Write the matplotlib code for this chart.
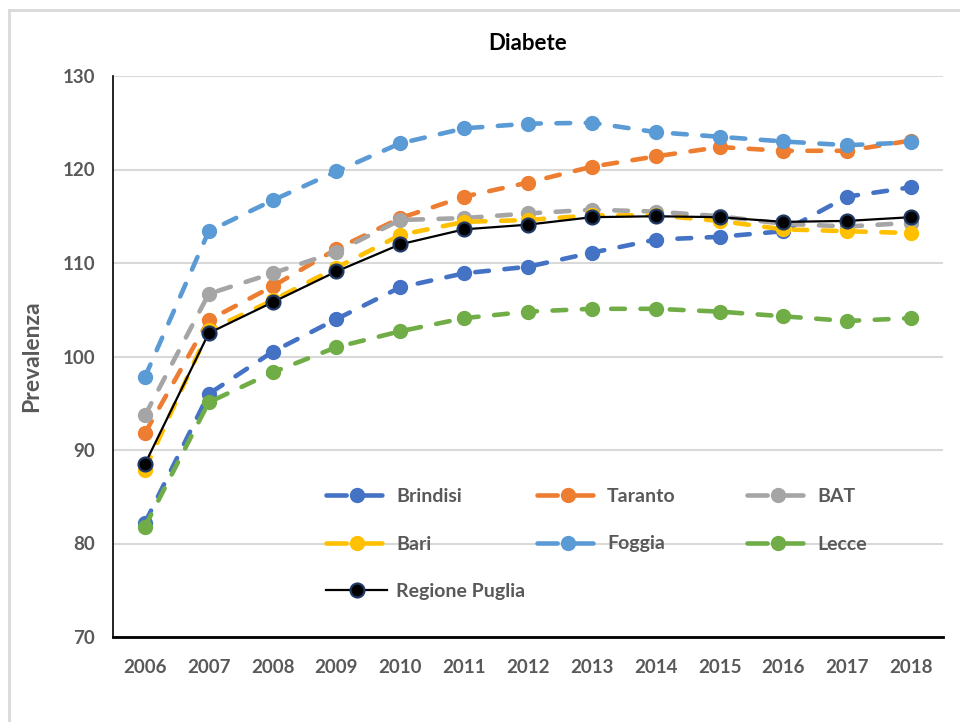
import matplotlib
matplotlib.use("Agg")
import matplotlib.pyplot as plt
from matplotlib.lines import Line2D

plt.rcParams['font.family'] = ['Lato', 'DejaVu Sans']

years = list(range(2006, 2019))

brindisi = [82.2, 96.0, 100.5, 104.0, 107.4, 108.9, 109.6, 111.1, 112.5, 112.8, 113.4, 117.1, 118.1]
taranto = [91.8, 103.9, 107.5, 111.5, 114.8, 117.1, 118.6, 120.3, 121.4, 122.4, 122.0, 122.0, 123.1]
bat = [93.7, 106.7, 108.9, 111.2, 114.6, 114.8, 115.3, 115.7, 115.5, 115.0, 114.2, 113.9, 114.3]
bari = [87.9, 102.8, 106.0, 109.5, 113.0, 114.4, 114.6, 115.1, 115.1, 114.5, 113.6, 113.4, 113.2]
foggia = [97.8, 113.4, 116.7, 119.8, 122.8, 124.4, 124.9, 125.0, 124.0, 123.5, 123.0, 122.6, 122.9]
lecce = [81.8, 95.1, 98.3, 101.0, 102.7, 104.1, 104.8, 105.1, 105.1, 104.8, 104.3, 103.8, 104.1]
puglia = [88.5, 102.5, 105.8, 109.1, 112.0, 113.6, 114.1, 114.9, 115.0, 114.9, 114.4, 114.5, 114.9]

series = [
    ("Brindisi", brindisi, "#4472C4"),
    ("Taranto", taranto, "#ED7D31"),
    ("BAT", bat, "#A5A5A5"),
    ("Bari", bari, "#FFC000"),
    ("Foggia", foggia, "#5B9BD5"),
    ("Lecce", lecce, "#70AD47"),
]

TEXT = "#595959"
GRID = "#D9D9D9"
LW = 3.3

fig = plt.figure(figsize=(9.6, 7.22), dpi=100)
ax = fig.add_axes([113 / 960, 1 - 637 / 722, (943 - 113) / 960, (637 - 76) / 722])

proxies = {}
for name, vals, col in series:
    ln, = ax.plot(years, vals, color=col, lw=LW, marker="o", ms=10,
                  mfc=col, mec=col, dash_capstyle="round", solid_capstyle="round")
    ln.set_dashes((3.0, 3.4))
    px = Line2D([], [], color=col, lw=LW, marker="o", ms=10, mfc=col, mec=col,
                dash_capstyle="round")
    px.set_dashes((4.4, 3.4))
    proxies[name] = px

ax.plot(years, puglia, color="black", lw=1.6, marker="o", ms=10,
        mfc="black", mec="#203864", mew=1.6, zorder=5)
proxies["Regione Puglia"] = Line2D([], [], color="black", lw=1.6, marker="o", ms=10,
                                   mfc="black", mec="#203864", mew=1.6)

ax.set_xlim(2005.5, 2018.5)
ax.set_ylim(70, 130)
ax.set_xticks(years)
ax.set_yticks(range(70, 131, 10))
ax.yaxis.grid(True, color=GRID, lw=1.5)
ax.set_axisbelow(True)
for s in ("top", "right"):
    ax.spines[s].set_visible(False)
ax.spines["left"].set_color("black")
ax.spines["left"].set_linewidth(1.2)
ax.spines["bottom"].set_color("black")
ax.spines["bottom"].set_linewidth(2.0)
ax.tick_params(length=0, labelsize=13.5, labelcolor=TEXT)
ax.tick_params(axis="y", pad=13)
ax.tick_params(axis="x", pad=16)
for lab in ax.get_xticklabels() + ax.get_yticklabels():
    lab.set_fontweight("bold")

ax.set_ylabel("Prevalenza", fontsize=16.5, fontweight="bold", color=TEXT)
ax.yaxis.set_label_coords((42 - 113) / 830, 0.5)
fig.text(528 / 960, 1 - 44 / 722, "Diabete", ha="center", va="center",
         fontsize=16, fontweight="bold", color="black")

# legend entries placed individually on a 3-column grid
entries = [
    ("Brindisi", 326, 496), ("Taranto", 537, 496), ("BAT", 747, 496),
    ("Bari", 326, 544), ("Foggia", 537, 544), ("Lecce", 747, 544),
    ("Regione Puglia", 326, 591),
]
for name, px, py in entries:
    leg = fig.legend([proxies[name]], [name], loc="center left",
                     bbox_to_anchor=(px / 960, 1 - py / 722),
                     bbox_transform=fig.transFigure, frameon=False,
                     borderpad=0, borderaxespad=0, handlelength=3.14,
                     handletextpad=0.46, numpoints=1,
                     prop={"size": 14, "weight": "bold"})
    for t in leg.get_texts():
        t.set_color(TEXT)

# outer chart frame
fig.add_artist(Line2D([9 / 960, 1.0], [1 - 10 / 722, 1 - 10 / 722],
                      transform=fig.transFigure, color=GRID, lw=2))
fig.add_artist(Line2D([9 / 960, 9 / 960], [0.0, 1 - 10 / 722],
                      transform=fig.transFigure, color=GRID, lw=2))

fig.savefig("out.png", dpi=100)
